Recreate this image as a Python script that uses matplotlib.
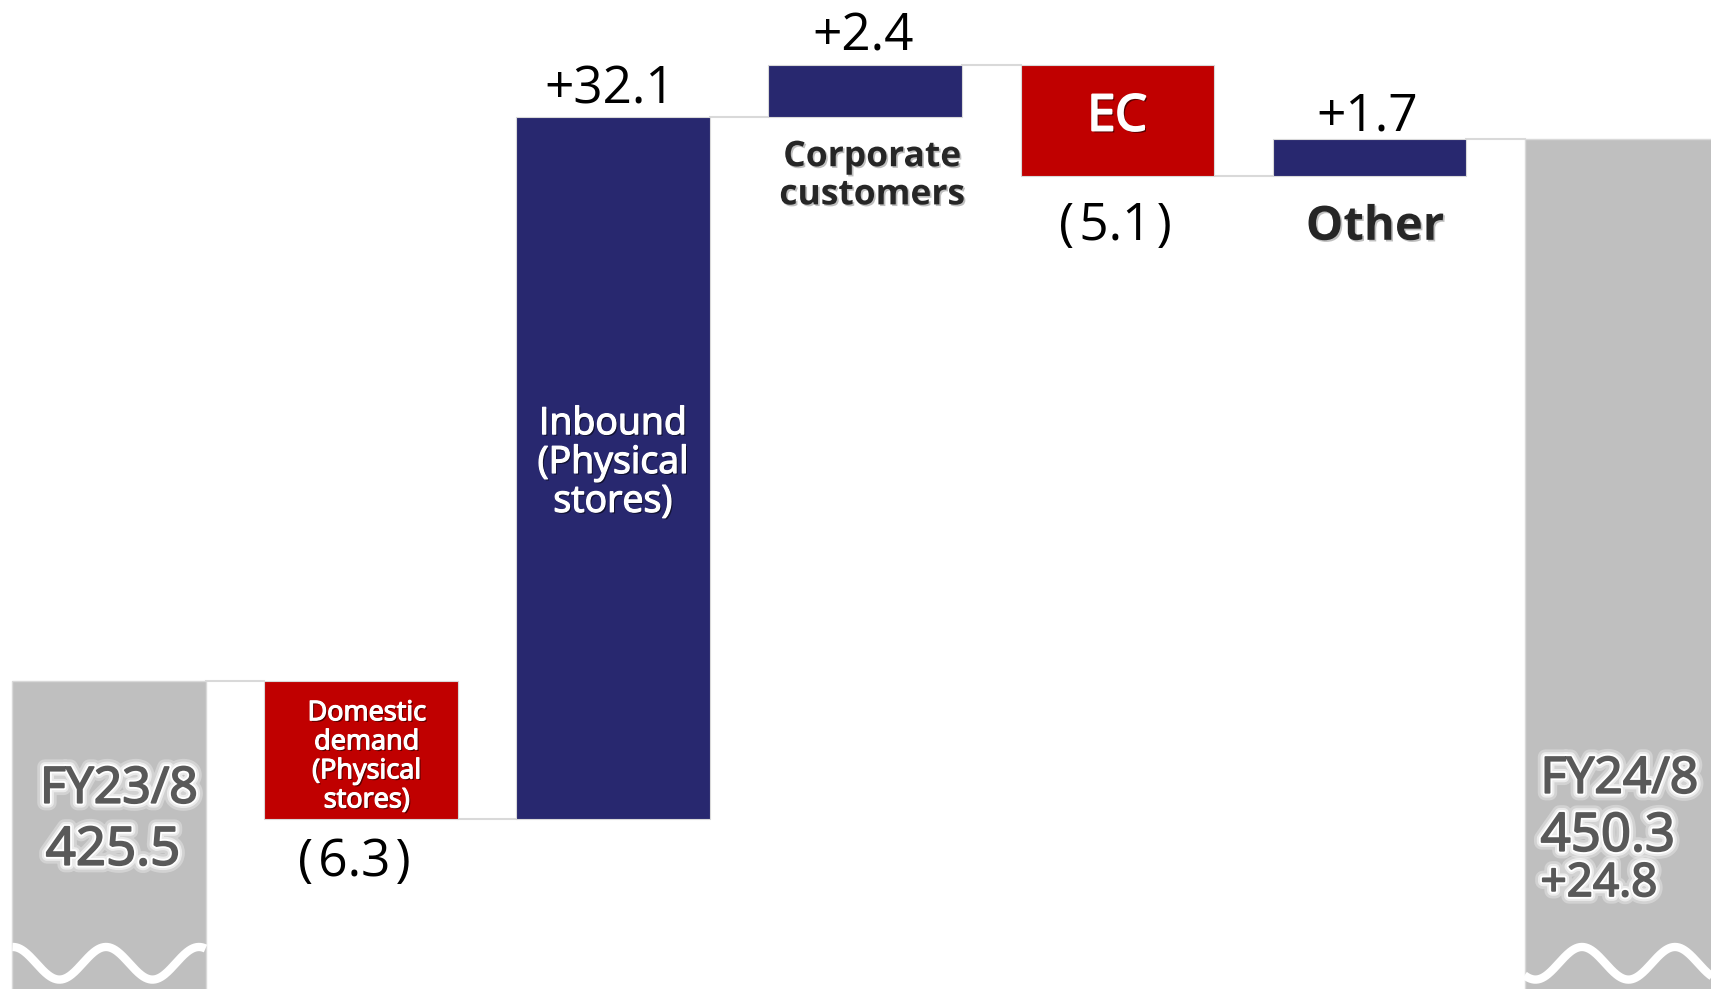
import numpy as np
import matplotlib
matplotlib.use("Agg")
import matplotlib.pyplot as plt
import matplotlib.patheffects as pe
from matplotlib.transforms import ScaledTranslation

plt.rcParams['font.family'] = ['Open Sans', 'DejaVu Sans']

# ---- data (JPY bn) ----
start_label = "FY23/8"
end_label = "FY24/8"
start_value = 425.5
end_value = 450.3
categories = ["Domestic\ndemand\n(Physical\nstores)", "Inbound\n(Physical\nstores)",
              "Corporate\ncustomers", "EC", "Other"]
deltas = [-6.3, 32.1, 2.4, -5.1, 1.7]

NAVY = "#28286f"
RED = "#c00000"
GRAY = "#bfbfbf"
LINE = "#d9d9d9"
TXT_GRAY = "#595959"

DPI = 100
W, H = 1711, 989
fig = plt.figure(figsize=(W / DPI, H / DPI), dpi=DPI)
ax = fig.add_axes([0, 0, 1, 1])
ax.set_xlim(-0.4325, 6.357)
ax.set_ylim(411.4, 456.67)
ax.axis('off')

def px(p):
    # pixels -> points
    return p * 72 / DPI

bw = 0.766
n = len(deltas)

# running totals
levels = [start_value]
for d in deltas:
    levels.append(levels[-1] + d)

# end bars (cut off at the bottom)
for x, v in [(0, start_value), (n + 1, end_value)]:
    ax.bar(x, v, width=bw, color=GRAY, edgecolor=LINE, linewidth=1, zorder=2)

# delta bars
for i, d in enumerate(deltas):
    lo = min(levels[i], levels[i + 1])
    ax.bar(i + 1, abs(d), bottom=lo, width=bw,
           color=NAVY if d > 0 else RED, edgecolor=LINE, linewidth=0.8, zorder=2)

# connectors between bars
for i in range(n + 1):
    y = levels[i]
    ax.plot([i + bw / 2, i + 1 - bw / 2], [y, y], color=LINE, lw=1.5, zorder=1)

# wavy break marks on the end bars
P = 93 / 252
for x, crest in [(0, -0.381), (n + 1, 5.845)]:
    wx = np.linspace(x - bw / 2, x + bw / 2, 200)
    wy = 0.026 + 0.0165 * np.cos(2 * np.pi * (wx - crest) / P)
    ax.plot(wx, wy, color="white", lw=6, solid_capstyle='butt',
            transform=ax.get_xaxis_transform(), zorder=3)

def thick(color, w=1.2):
    return pe.Stroke(linewidth=w, foreground=color)

glow = [pe.Stroke(linewidth=11, foreground="white", alpha=0.3),
        pe.Stroke(linewidth=7, foreground="white", alpha=0.55),
        pe.Stroke(linewidth=4, foreground="white"),
        thick(TXT_GRAY, 1.3), pe.Normal()]
shadow_w = [pe.withSimplePatchShadow(offset=(1.2, -1.2), shadow_rgbFace="black", alpha=0.55),
            thick("white", 0.9), pe.Normal()]
shadow_d = [pe.withSimplePatchShadow(offset=(1.2, -1.2), shadow_rgbFace="#808080", alpha=0.5)]

fy = dict(ha='center', va='center', color=TXT_GRAY, path_effects=glow, zorder=4)

# start labels
ax.annotate(start_label, (0, start_value), xytext=(px(10), px(-109)),
            textcoords='offset points', fontsize=36, **fy)
ax.annotate(f"{start_value:.1f}", (0, start_value), xytext=(px(4), px(-170)),
            textcoords='offset points', fontsize=38, **fy)

# end labels, left aligned inside the cut-off bar
fy['ha'] = 'left'
shift = ax.get_xaxis_transform() + ScaledTranslation(16 / DPI, 0, fig.dpi_scale_trans)
ex = n + 1 - bw / 2
ax.text(ex, 1 - 780 / H, end_label, transform=shift, fontsize=36, **fy)
ax.text(ex, 1 - 837 / H, f"{end_value:.1f}", transform=shift, fontsize=38, **fy)
ax.text(ex, 1 - 884 / H, f"+{end_value - start_value:.1f}", transform=shift,
        fontsize=33, **fy)

# value labels (x, y offsets in px)
val_off = [(-7, -44), (-3, 27), (-2, 28), (-2, -50), (-2, 22)]
for i, d in enumerate(deltas):
    x = i + 1
    if d > 0:
        y, txt = max(levels[i], levels[i + 1]), f"+{d:.1f}"
    else:
        y, txt = min(levels[i], levels[i + 1]), f"(\u200a{abs(d):.1f}\u200a)"
    dx, dy = val_off[i]
    ax.annotate(txt, (x, y), xytext=(px(dx), px(dy)), textcoords='offset points',
                ha='center', va='center', fontsize=37, color="black", zorder=4)

# category labels
lo = [min(levels[i], levels[i + 1]) for i in range(n)]
mid = [(levels[i] + levels[i + 1]) / 2 for i in range(n)]
ax.annotate(categories[0], (1, mid[0]), xytext=(px(6), px(-7)), textcoords='offset points',
            ha='center', va='center', fontsize=19.5, color="white",
            linespacing=1.05, path_effects=shadow_w, zorder=4)
ax.annotate(categories[1], (2, mid[1]), xytext=(0, px(5)), textcoords='offset points',
            ha='center', va='center', fontsize=27, color="white",
            linespacing=1.03, path_effects=shadow_w, zorder=4)
ax.annotate(categories[2], (3, lo[2]), xytext=(px(7), px(-59)), textcoords='offset points',
            ha='center', va='center', fontsize=25.5, fontweight='bold', color="#262626",
            linespacing=1.08, path_effects=shadow_d, zorder=4)
ax.annotate(categories[3], (4, mid[3]), xytext=(0, px(3)), textcoords='offset points',
            ha='center', va='center', fontsize=36, color="white",
            path_effects=[pe.withSimplePatchShadow(offset=(1.5, -1.5), shadow_rgbFace="black",
                                                   alpha=0.55),
                          thick("white", 1.6), pe.Normal()], zorder=4)
ax.annotate(categories[4], (5, lo[4]), xytext=(px(6), px(-51)), textcoords='offset points',
            ha='center', va='center', fontsize=34, fontweight='bold', color="#262626",
            path_effects=shadow_d, zorder=4)

fig.savefig("out.png", dpi=DPI)
